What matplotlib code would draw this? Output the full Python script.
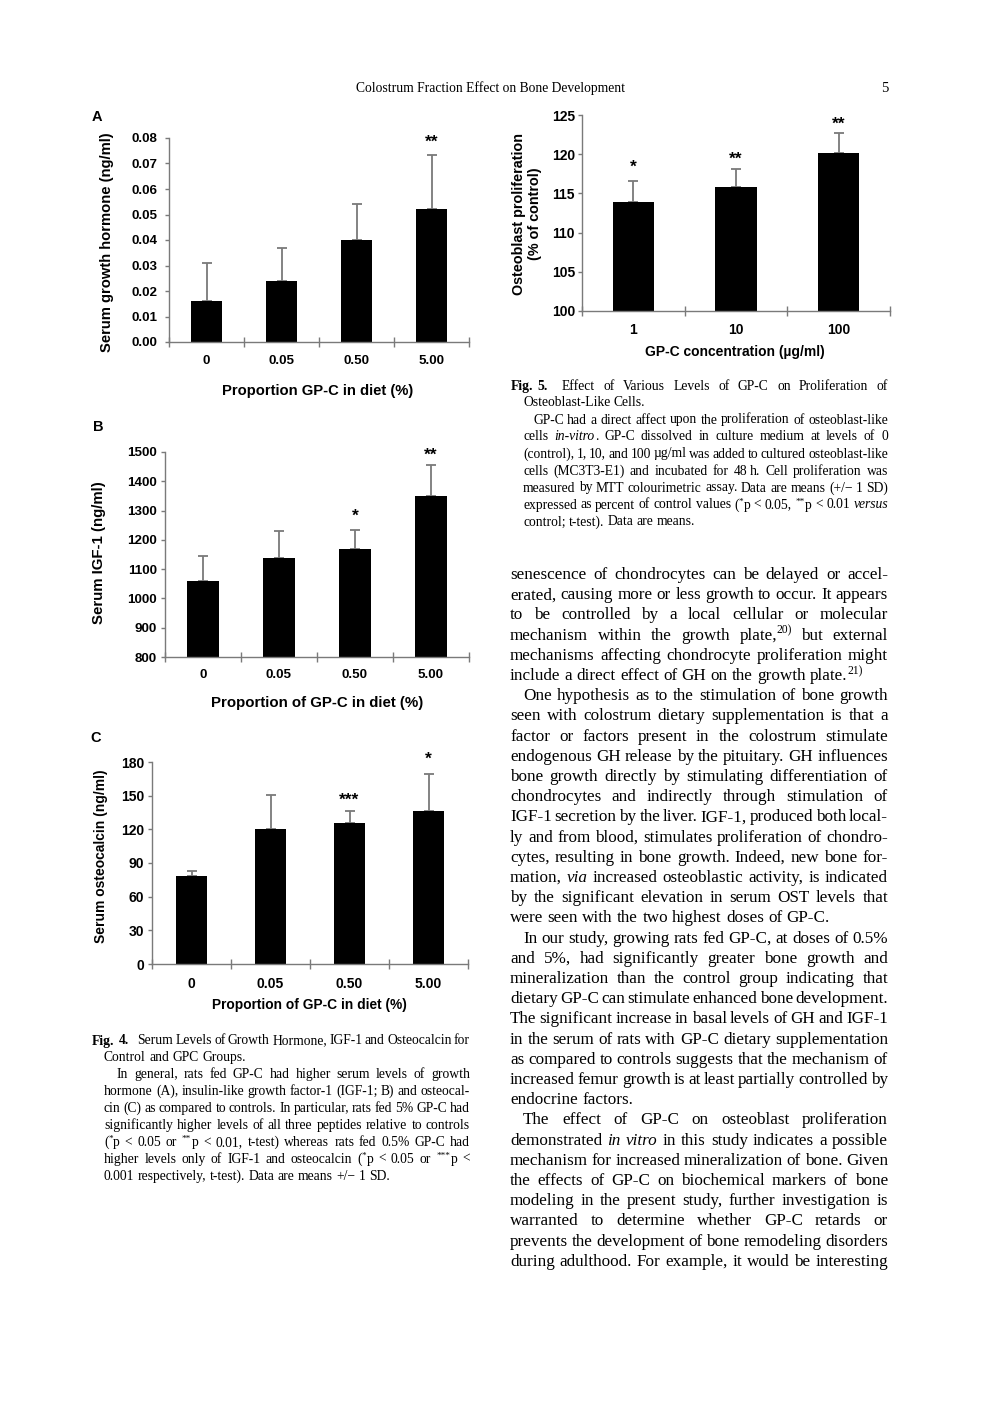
import re
import numpy as np
import matplotlib
matplotlib.use("Agg")
import matplotlib.pyplot as plt

# ---------------- data ----------------
diet_cats = ["0", "0.05", "0.50", "5.00"]
gh_means = [0.016, 0.024, 0.040, 0.052]
gh_sd = [0.015, 0.013, 0.0143, 0.0215]
gh_stars = ["", "", "", "**"]

igf_means = [1060, 1139, 1170, 1350]
igf_sd = [86, 91, 63, 105]
igf_stars = ["", "", "*", "**"]

ost_means = [78.5, 120, 125.8, 136]
ost_sd = [4.5, 31, 10.7, 33.5]
ost_stars = ["", "", "***", "*"]

conc_cats = ["1", "10", "100"]
prolif_means = [113.9, 115.8, 120.2]
prolif_sd = [2.7, 2.3, 2.45]
prolif_stars = ["*", "**", "**"]

# ---------------- figure ----------------
W, H = 992, 1403
plt.rcParams["font.family"] = ["Liberation Sans", "DejaVu Sans"]
plt.rcParams["font.weight"] = "bold"
fig = plt.figure(figsize=(W / 100, H / 100), dpi=100)
fig.patch.set_facecolor("white")

SANS = ["Liberation Sans", "DejaVu Sans"]
SERIF = ["Liberation Serif", "DejaVu Serif"]
GRAY = "#7a7a7a"
STAR_FS = 12.5


def fx(px):
    return px / W


def fy(py):
    return 1 - py / H


def bar_panel(rect, cats, means, sds, stars, star_off, ylim, yticks, yfmt,
              tick_fs, ypad, bw):
    l, t, r, b = rect
    ax = fig.add_axes([fx(l), fy(b), (r - l) / W, (b - t) / H])
    x = np.arange(len(cats))
    ax.bar(x, means, width=bw, color="black", zorder=2)
    ax.errorbar(x, means, yerr=[np.zeros(len(sds)), sds], fmt="none",
                ecolor=GRAY, elinewidth=1.3, capsize=3.5, capthick=1.3,
                zorder=1)
    for i, (m, s, st) in enumerate(zip(means, sds, stars)):
        if st:
            ax.annotate(st, (i, m + s), xytext=(0, star_off[i]),
                        textcoords="offset pixels", ha="center", va="center",
                        fontsize=STAR_FS, fontweight="bold", family=SANS,
                        annotation_clip=False)
    ax.set_xlim(-0.5, len(cats) - 0.5)
    ax.set_ylim(*ylim)
    ax.set_yticks(yticks)
    ax.set_yticklabels([yfmt.format(v) for v in yticks])
    ax.set_xticks(x)
    ax.set_xticklabels(cats)
    ax.set_xticks(np.arange(len(cats) + 1) - 0.5, minor=True)
    for sp in ["top", "right"]:
        ax.spines[sp].set_visible(False)
    for sp in ["left", "bottom"]:
        ax.spines[sp].set_color(GRAY)
        ax.spines[sp].set_linewidth(1.0)
    ax.tick_params(axis="x", which="major", length=0, pad=9,
                   labelsize=tick_fs)
    ax.tick_params(axis="x", which="minor", direction="inout", length=6.5,
                   width=1.0, color=GRAY)
    ax.tick_params(axis="y", which="major", direction="out", length=3,
                   width=1.0, color=GRAY, labelsize=tick_fs, pad=ypad)
    ax.patch.set_alpha(0)
    for lab in ax.get_xticklabels() + ax.get_yticklabels():
        lab.set_fontweight("bold")
    return ax


# Panel A
bar_panel((169, 138, 469, 342), diet_cats, gh_means, gh_sd, gh_stars,
          [0, 0, 0, 12], (0, 0.08), np.arange(0, 0.0801, 0.01), "{:.2f}",
          9.6, 5.5, 0.41)
fig.text(fx(97), fy(117), "A", ha="center", va="center", fontsize=10.5,
         fontweight="bold")
fig.text(fx(107), fy(242), "Serum growth hormone (ng/ml)", rotation=90,
         ha="center", va="center", fontsize=10.6, fontweight="bold")
fig.text(fx(318), fy(391), "Proportion GP-C in diet (%)", ha="center",
         va="center", fontsize=10.6, fontweight="bold")

# Panel B
bar_panel((165, 452, 469, 657), diet_cats, igf_means, igf_sd, igf_stars,
          [0, 0, 14, 10], (800, 1500), np.arange(800, 1501, 100), "{:d}",
          9.6, 3.0, 0.41)
fig.text(fx(98), fy(427), "B", ha="center", va="center", fontsize=10.5,
         fontweight="bold")
fig.text(fx(99), fy(553), "Serum IGF-1 (ng/ml)", rotation=90,
         ha="center", va="center", fontsize=10.8, fontweight="bold")
fig.text(fx(317), fy(703), "Proportion of GP-C in diet (%)", ha="center",
         va="center", fontsize=10.8, fontweight="bold")

# Panel C
bar_panel((152, 762, 468, 964), diet_cats, ost_means, ost_sd, ost_stars,
          [0, 0, 11, 15], (0, 180), np.arange(0, 181, 30), "{:d}",
          10.0, 2.5, 0.405)
fig.text(fx(96), fy(738), "C", ha="center", va="center", fontsize=10.5,
         fontweight="bold")
fig.text(fx(101), fy(856), "Serum osteocalcin (ng/ml)", rotation=90,
         ha="center", va="center", fontsize=10.0, fontweight="bold")
fig.text(fx(309), fy(1005), "Proportion of GP-C in diet (%)", ha="center",
         va="center", fontsize=9.9, fontweight="bold")

# Fig 5
bar_panel((582, 115, 890, 311), conc_cats, prolif_means, prolif_sd,
          prolif_stars, [14, 10, 9], (100, 125), np.arange(100, 126, 5),
          "{:d}", 10.0, 2.0, 0.40)
fig.text(fx(527), fy(214), "Osteoblast proliferation\n(% of control)",
         rotation=90, ha="center", va="center", multialignment="center",
         fontsize=10.4, fontweight="bold", linespacing=1.15)
fig.text(fx(735), fy(352), "GP-C concentration (\u00b5g/ml)", ha="center",
         va="center", fontsize=10.0, fontweight="bold")

# ---------------- page text ----------------
renderer = fig.canvas.get_renderer()
SEG_RE = re.compile(r"\{([ibsg]):([^}]*)\}")


def parse_word(w):
    segs, pos = [], 0
    for m in SEG_RE.finditer(w):
        if m.start() > pos:
            segs.append(("n", w[pos:m.start()]))
        segs.append((m.group(1), m.group(2)))
        pos = m.end()
    if pos < len(w):
        segs.append(("n", w[pos:]))
    return segs


def seg_props(kind, fs):
    if kind == "i":
        return dict(fontstyle="italic", fontweight="normal", fontsize=fs)
    if kind == "b":
        return dict(fontweight="bold", fontsize=fs)
    if kind == "s":
        return dict(fontweight="normal", fontsize=fs * 0.68)
    return dict(fontweight="normal", fontsize=fs)


_cache = {}


def measure(kind, txt, fs):
    key = (kind, txt, fs)
    if key not in _cache:
        t = fig.text(0, 0, txt, family=SERIF, **seg_props(kind, fs))
        _cache[key] = t.get_window_extent(renderer).width
        t.remove()
    return _cache[key]


def draw_line(line, x0, x1, yb, fs, justify):
    em = fs * 100 / 72
    words = [parse_word(w) for w in line.split(" ")]
    widths = []
    for segs in words:
        ws = []
        for j, (k, s) in enumerate(segs):
            if k == "g":
                ws.append(float(s) * em)
            else:
                extra = 0.0
                if j < len(segs) - 1:
                    extra = -0.03 * em if segs[j + 1][0] == "s" else 0.04 * em
                ws.append(measure(k, s, fs) + extra)
        widths.append(ws)
    tot = sum(sum(ws) for ws in widths)
    n = len(words)
    if justify and n > 1:
        gap = (x1 - x0 - tot) / (n - 1)
    else:
        gap = 0.25 * em
    x = x0
    for segs, ws in zip(words, widths):
        for (k, s), w in zip(segs, ws):
            if k != "g":
                y = yb - (0.36 * em if k == "s" else 0)
                fig.text(fx(x), fy(y), s, family=SERIF, ha="left",
                         va="baseline", **seg_props(k, fs))
            x += w
        x += gap


def draw_block(paras, x0, x1, y0, dy, fs, cont_x, base_off, last_open=False):
    k = 0
    for p_i, (lines, indent_first) in enumerate(paras):
        for j, line in enumerate(lines):
            xs = x0 + indent_first if j == 0 else cont_x
            last = (j == len(lines) - 1)
            if last_open and p_i == len(paras) - 1:
                last = False
            draw_line(line, xs, x1, y0 + k * dy + base_off, fs, not last)
            k += 1


# header
fig.text(fx(490), fy(92), "Colostrum Fraction Effect on Bone Development",
         ha="center", va="baseline", family=SERIF, fontweight="normal",
         fontsize=9.8)
fig.text(fx(888), fy(92), "5", ha="right", va="baseline", family=SERIF,
         fontweight="normal", fontsize=10.5)

# Fig 4 caption
fig4_paras = [
    (["{b:Fig.}{g:0.25}{b:4.}{g:0.4} Serum Levels of Growth Hormone, IGF-1 and Osteocalcin for",
      "Control and GPC Groups."], 0),
    (["In general, rats fed GP-C had higher serum levels of growth",
      "hormone (A), insulin-like growth factor-1 (IGF-1; B) and osteocal-",
      "cin (C) as compared to controls. In particular, rats fed 5% GP-C had",
      "significantly higher levels of all three peptides relative to controls",
      "({s:*}p < 0.05 or {s:**}p < 0.01, t-test) whereas rats fed 0.5% GP-C had",
      "higher levels only of IGF-1 and osteocalcin ({s:*}p < 0.05 or {s:***}p <",
      "0.001 respectively, t-test). Data are means +/\u2212 1 SD."], 25),
]
draw_block(fig4_paras, 92, 470, 1040, 16.9, 9.8, 104, 4.5)

# Fig 5 caption
fig5_paras = [
    (["{b:Fig.}{g:0.25}{b:5.}{g:0.4} Effect of Various Levels of GP-C on Proliferation of",
      "Osteoblast-Like Cells."], 0),
    (["GP-C had a direct affect upon the proliferation of osteoblast-like",
      "cells {i:in-vitro}. GP-C dissolved in culture medium at levels of 0",
      "(control), 1, 10, and 100{g:0.17}\u00b5g/ml was added to cultured osteoblast-like",
      "cells (MC3T3-E1) and incubated for 48{g:0.17}h. Cell proliferation was",
      "measured by MTT colourimetric assay. Data are means (+/\u2212 1 SD)",
      "expressed as percent of control values ({s:*}p < 0.05, {s:**}p < 0.01 {i:versus}",
      "control; t-test). Data are means."], 22),
]
draw_block(fig5_paras, 511, 888, 385, 17.0, 9.8, 523, 4.5)

# body text
body_paras = [
    (["senescence of chondrocytes can be delayed or accel-",
      "erated, causing more or less growth to occur. It appears",
      "to be controlled by a local cellular or molecular",
      "mechanism within the growth plate,{s:20)} but external",
      "mechanisms affecting chondrocyte proliferation might",
      "include a direct effect of GH on the growth plate.{s:21)}"], 0),
    (["One hypothesis as to the stimulation of bone growth",
      "seen with colostrum dietary supplementation is that a",
      "factor or factors present in the colostrum stimulate",
      "endogenous GH release by the pituitary. GH influences",
      "bone growth directly by stimulating differentiation of",
      "chondrocytes and indirectly through stimulation of",
      "IGF-1 secretion by the liver. IGF-1, produced both local-",
      "ly and from blood, stimulates proliferation of chondro-",
      "cytes, resulting in bone growth. Indeed, new bone for-",
      "mation, {i:via} increased osteoblastic activity, is indicated",
      "by the significant elevation in serum OST levels that",
      "were seen with the two highest doses of GP-C."], 13),
    (["In our study, growing rats fed GP-C, at doses of 0.5%",
      "and 5%, had significantly greater bone growth and",
      "mineralization than the control group indicating that",
      "dietary GP-C can stimulate enhanced bone development.",
      "The significant increase in basal levels of GH and IGF-1",
      "in the serum of rats with GP-C dietary supplementation",
      "as compared to controls suggests that the mechanism of",
      "increased femur growth is at least partially controlled by",
      "endocrine factors."], 13),
    (["The effect of GP-C on osteoblast proliferation",
      "demonstrated {i:in} {i:vitro} in this study indicates a possible",
      "mechanism for increased mineralization of bone. Given",
      "the effects of GP-C on biochemical markers of bone",
      "modeling in the present study, further investigation is",
      "warranted to determine whether GP-C retards or",
      "prevents the development of bone remodeling disorders",
      "during adulthood. For example, it would be interesting"], 13),
]
draw_block(body_paras, 510, 888, 574, 20.2, 12.3, 510, 5, last_open=True)

fig.savefig("out.png", dpi=100, facecolor="white")
